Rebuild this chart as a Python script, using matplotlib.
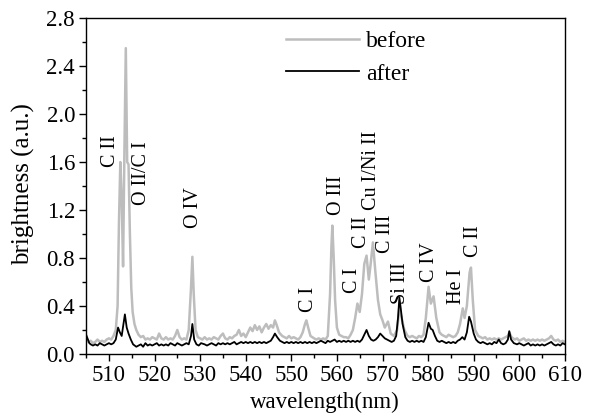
import matplotlib
matplotlib.use("Agg")
import matplotlib.pyplot as plt
from matplotlib.ticker import MultipleLocator, FormatStrFormatter

# ---- data ----
before_wl = [505.0, 505.5, 506.0, 506.5, 507.0, 507.5, 508.0, 508.5, 509.0, 509.5,
             510.0, 510.5, 511.0, 511.5, 511.9, 512.2, 512.5, 512.8, 513.1, 513.4,
             513.7, 514.0, 514.3, 514.6, 514.9, 515.2, 515.6, 516.0, 516.5, 517.0,
             517.5, 518.0, 518.5, 519.0, 519.5, 520.0, 520.5, 521.0, 521.5, 522.0,
             522.5, 523.0, 523.5, 524.0, 524.5, 525.0, 525.5, 526.0, 526.5, 527.0,
             527.5, 528.0, 528.3, 528.6, 529.0, 529.5, 530.0, 530.5, 531.0, 531.5,
             532.0, 532.5, 533.0, 533.5, 534.0, 534.5, 535.0, 535.5, 536.0, 536.5,
             537.0, 537.5, 538.0, 538.5, 539.0, 539.5, 540.0, 540.5, 541.0, 541.5,
             542.0, 542.5, 543.0, 543.5, 544.0, 544.5, 545.0, 545.5, 546.0, 546.4,
             546.8, 547.3, 548.0, 548.5, 549.0, 549.5, 550.0, 550.5, 551.0, 551.5,
             552.0, 552.5, 553.0, 553.3, 553.7, 554.2, 555.0, 555.5, 556.0, 556.5,
             557.0, 557.5, 558.0, 558.5, 558.8, 559.0, 559.3, 559.6, 560.0, 560.5,
             561.0, 561.5, 562.0, 562.5, 563.0, 563.5, 564.0, 564.5, 565.0, 565.5,
             566.0, 566.5, 567.0, 567.4, 567.9, 568.4, 569.0, 569.5, 570.0, 570.5,
             571.2, 571.8, 572.5, 573.2, 573.7, 574.2, 574.8, 575.5, 576.0, 576.5,
             577.0, 577.5, 578.0, 578.5, 579.0, 579.5, 580.1, 580.6, 581.2, 581.8,
             582.5, 583.0, 583.5, 584.0, 584.5, 585.0, 585.5, 586.0, 586.5, 587.0,
             587.6, 588.0, 588.5, 589.1, 589.4, 589.8, 590.3, 591.0, 591.5, 592.0,
             592.5, 593.0, 593.5, 594.0, 594.5, 595.0, 595.5, 596.0, 596.5, 597.0,
             597.5, 597.8, 598.3, 599.0, 599.5, 600.0, 600.5, 601.0, 601.5, 602.0,
             602.5, 603.0, 603.5, 604.0, 604.5, 605.0, 605.5, 606.0, 606.5, 607.0,
             607.5, 608.0, 608.5, 609.0, 609.5, 610.0]
before_val = [0.13, 0.10, 0.11, 0.09, 0.10, 0.12, 0.10, 0.11, 0.10, 0.12,
              0.13, 0.12, 0.15, 0.20, 0.40, 1.10, 1.60, 1.30, 0.73, 1.70,
              2.55, 1.60, 1.58, 1.00, 0.55, 0.35, 0.25, 0.20, 0.16, 0.14,
              0.15, 0.12, 0.13, 0.12, 0.14, 0.13, 0.12, 0.17, 0.13, 0.12,
              0.14, 0.12, 0.13, 0.12, 0.15, 0.20, 0.14, 0.12, 0.13, 0.12,
              0.20, 0.55, 0.81, 0.50, 0.20, 0.14, 0.13, 0.12, 0.14, 0.12,
              0.13, 0.12, 0.14, 0.13, 0.12, 0.15, 0.17, 0.13, 0.12, 0.14,
              0.13, 0.15, 0.16, 0.20, 0.15, 0.17, 0.14, 0.18, 0.22, 0.19,
              0.24, 0.20, 0.23, 0.18, 0.22, 0.25, 0.21, 0.24, 0.22, 0.28,
              0.24, 0.18, 0.15, 0.14, 0.13, 0.15, 0.13, 0.14, 0.13, 0.12,
              0.14, 0.18, 0.25, 0.28, 0.22, 0.15, 0.13, 0.12, 0.13, 0.12,
              0.13, 0.12, 0.15, 0.50, 0.90, 1.07, 0.80, 0.45, 0.22, 0.16,
              0.15, 0.14, 0.14, 0.13, 0.16, 0.20, 0.30, 0.42, 0.35, 0.50,
              0.75, 0.82, 0.62, 0.75, 0.93, 0.70, 0.45, 0.33, 0.28, 0.22,
              0.27, 0.17, 0.15, 0.20, 0.38, 0.30, 0.20, 0.15, 0.14, 0.15,
              0.14, 0.13, 0.15, 0.14, 0.16, 0.30, 0.56, 0.42, 0.48, 0.30,
              0.18, 0.16, 0.15, 0.14, 0.16, 0.15, 0.14, 0.15, 0.18, 0.25,
              0.38, 0.30, 0.40, 0.68, 0.72, 0.45, 0.20, 0.15, 0.14, 0.13,
              0.14, 0.12, 0.13, 0.12, 0.13, 0.12, 0.13, 0.12, 0.13, 0.14,
              0.15, 0.18, 0.14, 0.12, 0.13, 0.11, 0.12, 0.13, 0.11, 0.12,
              0.11, 0.12, 0.11, 0.12, 0.11, 0.12, 0.11, 0.12, 0.13, 0.15,
              0.12, 0.11, 0.12, 0.10, 0.11, 0.10]

after_wl = [505.0, 505.3, 505.7, 506.0, 506.5, 507.0, 507.5, 508.0, 508.5, 509.0,
            509.5, 510.0, 510.5, 511.0, 511.5, 512.0, 512.4, 512.8, 513.2, 513.5,
            513.9, 514.3, 514.8, 515.3, 516.0, 516.5, 517.0, 517.5, 518.0, 518.5,
            519.0, 519.5, 520.0, 520.5, 521.0, 521.5, 522.0, 522.5, 523.0, 523.5,
            524.0, 524.5, 525.0, 525.5, 526.0, 526.5, 527.0, 527.5, 528.0, 528.3,
            528.7, 529.2, 529.7, 530.2, 531.0, 531.5, 532.0, 532.5, 533.0, 533.5,
            534.0, 534.5, 535.0, 535.5, 536.0, 536.5, 537.0, 537.5, 538.0, 538.5,
            539.0, 539.5, 540.0, 540.5, 541.0, 541.5, 542.0, 542.5, 543.0, 543.5,
            544.0, 544.5, 545.0, 545.5, 546.0, 546.4, 546.9, 547.5, 548.0, 548.5,
            549.0, 549.5, 550.0, 550.5, 551.0, 551.5, 552.0, 552.5, 553.0, 553.5,
            554.0, 554.5, 555.0, 555.5, 556.0, 556.5, 557.0, 557.5, 558.0, 558.5,
            559.0, 559.5, 560.0, 560.5, 561.0, 561.5, 562.0, 562.5, 563.0, 563.5,
            564.0, 564.5, 565.0, 565.5, 566.0, 566.5, 567.0, 567.5, 568.0, 568.5,
            569.0, 569.5, 570.0, 570.5, 571.0, 571.5, 572.0, 572.5, 573.0, 573.4,
            573.7, 574.0, 574.4, 575.0, 575.5, 576.0, 576.5, 577.0, 577.5, 578.0,
            578.5, 579.0, 579.5, 580.1, 580.6, 581.0, 581.5, 582.0, 582.5, 583.0,
            583.5, 584.0, 584.5, 585.0, 585.5, 586.0, 586.5, 587.0, 587.5, 588.0,
            588.5, 589.0, 589.4, 590.0, 590.5, 591.0, 591.5, 592.0, 592.5, 593.0,
            593.5, 594.0, 594.5, 595.0, 595.5, 596.0, 596.5, 597.0, 597.5, 597.8,
            598.2, 598.8, 599.5, 600.0, 600.5, 601.0, 601.5, 602.0, 602.5, 603.0,
            603.5, 604.0, 604.5, 605.0, 605.5, 606.0, 606.5, 607.0, 607.5, 608.0,
            608.5, 609.0, 609.5, 610.0]
after_val = [0.16, 0.13, 0.09, 0.08, 0.07, 0.08, 0.07, 0.09, 0.08, 0.07,
             0.08, 0.09, 0.08, 0.09, 0.12, 0.22, 0.18, 0.15, 0.25, 0.33,
             0.22, 0.17, 0.12, 0.08, 0.06, 0.07, 0.08, 0.06, 0.09, 0.07,
             0.08, 0.07, 0.08, 0.09, 0.07, 0.08, 0.07, 0.08, 0.07, 0.09,
             0.08, 0.07, 0.09, 0.08, 0.07, 0.08, 0.09, 0.08, 0.15, 0.25,
             0.12, 0.08, 0.07, 0.09, 0.08, 0.07, 0.08, 0.09, 0.08, 0.07,
             0.09, 0.08, 0.09, 0.08, 0.09, 0.08, 0.09, 0.10, 0.08, 0.09,
             0.10, 0.09, 0.10, 0.09, 0.10, 0.09, 0.10, 0.09, 0.10, 0.09,
             0.10, 0.09, 0.10, 0.11, 0.14, 0.17, 0.14, 0.11, 0.10, 0.09,
             0.10, 0.09, 0.10, 0.09, 0.10, 0.09, 0.10, 0.09, 0.10, 0.09,
             0.10, 0.09, 0.10, 0.09, 0.10, 0.11, 0.10, 0.09, 0.11, 0.10,
             0.11, 0.12, 0.10, 0.11, 0.10, 0.11, 0.10, 0.11, 0.10, 0.11,
             0.10, 0.11, 0.10, 0.12, 0.16, 0.20, 0.15, 0.12, 0.11, 0.12,
             0.14, 0.17, 0.15, 0.13, 0.12, 0.11, 0.10, 0.11, 0.15, 0.30,
             0.47, 0.38, 0.25, 0.14, 0.11, 0.10, 0.11, 0.10, 0.11, 0.10,
             0.11, 0.10, 0.14, 0.26, 0.21, 0.20, 0.15, 0.11, 0.10, 0.11,
             0.10, 0.09, 0.10, 0.09, 0.10, 0.09, 0.11, 0.12, 0.14, 0.12,
             0.18, 0.31, 0.27, 0.17, 0.12, 0.10, 0.09, 0.10, 0.09, 0.08,
             0.09, 0.08, 0.10, 0.09, 0.12, 0.09, 0.08, 0.09, 0.12, 0.19,
             0.12, 0.09, 0.08, 0.09, 0.08, 0.07, 0.08, 0.09, 0.07, 0.08,
             0.07, 0.08, 0.07, 0.08, 0.07, 0.08, 0.09, 0.10, 0.08, 0.07,
             0.08, 0.07, 0.09, 0.08]

label_text = ["C II", "O II/C I", "O IV", "C I", "O III", "C I", "C II",
              "Cu I/Ni II", "C III", "Si III", "C IV", "He I", "C II"]
label_wl = [510.3, 517.2, 528.5, 553.7, 560.0, 563.5, 565.3,
            567.5, 570.6, 573.9, 580.4, 586.3, 589.9]
label_y = [1.56, 1.24, 1.05, 0.35, 1.16, 0.51, 0.88,
           1.20, 0.84, 0.42, 0.60, 0.42, 0.81]

plt.rcParams['font.family'] = ['Liberation Serif', 'DejaVu Serif']

fig = plt.figure(figsize=(5.94, 4.13), dpi=100)
ax = fig.add_axes([0.145, 0.143, 0.806, 0.813])

ax.plot(before_wl, before_val, color='#bdbdbd', lw=1.8, label='before')
ax.plot(after_wl, after_val, color='black', lw=1.3, label='after')

for t, w, y in zip(label_text, label_wl, label_y):
    ax.text(w, y, t, rotation=90, ha='center', va='bottom', fontsize=14.5)

ax.set_xlim(505, 610)
ax.set_ylim(0, 2.8)
ax.xaxis.set_major_locator(MultipleLocator(10))
ax.xaxis.set_minor_locator(MultipleLocator(5))
ax.yaxis.set_major_locator(MultipleLocator(0.4))
ax.yaxis.set_minor_locator(MultipleLocator(0.2))
ax.yaxis.set_major_formatter(FormatStrFormatter('%.1f'))
ax.tick_params(which='both', direction='out', top=False, right=False,
               labelsize=16.5)
ax.tick_params(which='major', length=5, width=1, pad=3)
ax.tick_params(which='minor', length=3, width=1)
for s in ax.spines.values():
    s.set_linewidth(1.0)

ax.set_xlabel('wavelength(nm)', fontsize=16.5)
ax.set_ylabel('brightness (a.u.)', fontsize=18)
ax.xaxis.set_label_coords(0.498, -0.112)
ax.yaxis.set_label_coords(-0.106, 0.506)

leg = ax.legend(loc='upper left', bbox_to_anchor=(0.4175, 0.963),
                frameon=False, fontsize=17, handlelength=3.1,
                handletextpad=0.3, borderpad=0, borderaxespad=0,
                labelspacing=0.47)

fig.savefig('out.png', dpi=100)
